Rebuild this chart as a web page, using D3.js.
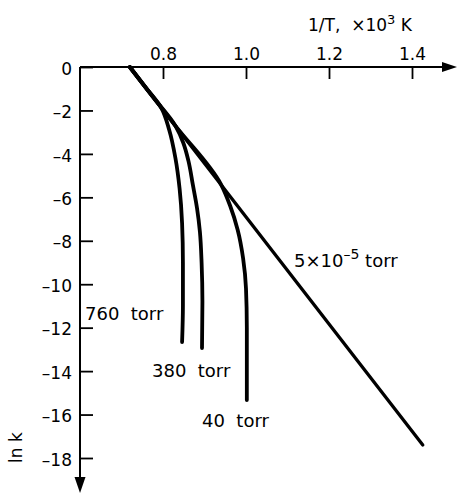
<!DOCTYPE html>
<html>
<head>
<meta charset="utf-8">
<script src="https://cdn.jsdelivr.net/npm/d3@7"></script>
<style>
  body { margin: 0; background: #fff; }
  text { font-family: "DejaVu Sans", sans-serif; fill: #000; }
</style>
</head>
<body>
<div id="chart"></div>
<script>
// axis ticks
const xTicks = [0.8, 1.0, 1.2, 1.4];
const yTicks = [0, -2, -4, -6, -8, -10, -12, -14, -16, -18];

// curves: [1/T (x10^3 K), ln k]
const lowPressure = [[0.72, 0], [1.426, -17.4]];               // 5x10^-5 torr
const torr760 = [[0.72, 0], [0.758, -0.94], [0.795, -1.85], [0.815, -2.9], [0.830, -4.2],
                 [0.840, -5.6], [0.846, -7.2], [0.848, -9], [0.848, -11], [0.846, -12.66]];
const torr380 = [[0.72, 0], [0.775, -1.36], [0.83, -2.71], [0.849, -3.5], [0.861, -4.3],
                 [0.872, -5.43], [0.882, -6.5], [0.889, -7.6], [0.893, -9], [0.895, -10.8],
                 [0.894, -12.94]];
const torr40 = [[0.72, 0], [0.83, -2.71], [0.94, -5.41], [0.962, -6.4], [0.980, -7.5],
                [0.993, -8.8], [1.0, -10.2], [1.002, -12], [1.002, -15.33]];

const width = 457, height = 494;

const x = d3.scaleLinear([0.6, 1.4], [80, 412]);
const y = d3.scaleLinear([0, -18], [67, 458]);

const svg = d3.select("#chart").append("svg")
  .attr("width", width)
  .attr("height", height);

// x axis (labels above, ticks pointing down)
const gx = svg.append("g")
  .attr("transform", `translate(0,${y(0)})`)
  .call(d3.axisTop(x).tickValues(xTicks).tickFormat(d3.format(".1f")).tickSize(-12).tickPadding(7));
gx.select(".domain").remove();
gx.selectAll(".tick line").attr("stroke-width", 1.8);
gx.selectAll("text").style("font-size", "17px");

// y axis (labels left, ticks pointing right)
const gy = svg.append("g")
  .attr("transform", `translate(${x(0.6)},0)`)
  .call(d3.axisLeft(y).tickValues(yTicks)
    .tickFormat(d => d === 0 ? "0" : "\u2013" + Math.abs(d))
    .tickSize(-13).tickPadding(8));
gy.select(".domain").remove();
gy.selectAll(".tick line").attr("stroke-width", 1.8);
gy.selectAll("text").style("font-size", "17px").attr("dy", "0.42em");

// axis lines with arrow heads
const x0 = x(0.6), y0 = y(0);
svg.append("line")
  .attr("x1", x0).attr("y1", y0).attr("x2", width - 10).attr("y2", y0)
  .attr("stroke", "#000").attr("stroke-width", 2);
svg.append("path")
  .attr("d", `M${width},${y0} L${width - 15},${y0 - 5} L${width - 15},${y0 + 5} Z`)
  .attr("fill", "#000");
svg.append("line")
  .attr("x1", x0).attr("y1", y0).attr("x2", x0).attr("y2", height - 10)
  .attr("stroke", "#000").attr("stroke-width", 2);
svg.append("path")
  .attr("d", `M${x0},${height - 1} L${x0 - 5.5},${height - 17} L${x0 + 5.5},${height - 17} Z`)
  .attr("fill", "#000");

// curves (y in pixels always grows along each curve)
const line = d3.line()
  .x(d => x(d[0]))
  .y(d => y(d[1]))
  .curve(d3.curveMonotoneY);

[lowPressure, torr760, torr380, torr40].forEach((d, i) => {
  svg.append("path")
    .datum(d)
    .attr("d", line)
    .attr("fill", "none")
    .attr("stroke", "#000")
    .attr("stroke-width", i === 0 ? 3.3 : 3.8)
    .attr("stroke-linecap", "round");
});

// curve labels
const nb = "\u00a0";
const labels = svg.append("g").style("font-size", "18px");
labels.append("text").attr("x", 85).attr("y", 320).text("760" + nb + nb + "torr");
labels.append("text").attr("x", 152).attr("y", 377).text("380" + nb + nb + "torr");
labels.append("text").attr("x", 202).attr("y", 427).text("40" + nb + nb + "torr");
const lp = labels.append("text").attr("x", 294).attr("y", 267);
lp.append("tspan").text("5\u00d710");
lp.append("tspan").attr("dy", -8).style("font-size", "14px").text("\u20135");
lp.append("tspan").attr("dy", 8).text(nb + "torr");

// axis titles
const xt = svg.append("text").attr("x", 308).attr("y", 31).style("font-size", "17px");
xt.append("tspan").text("1/T," + nb + nb + "\u00d710");
xt.append("tspan").attr("dy", -7).style("font-size", "13px").text("3");
xt.append("tspan").attr("dy", 7).text(nb + "K");

svg.append("text")
  .attr("transform", "translate(22,463) rotate(-90)")
  .style("font-size", "17px")
  .text("ln" + nb + "k");
</script>
</body>
</html>
